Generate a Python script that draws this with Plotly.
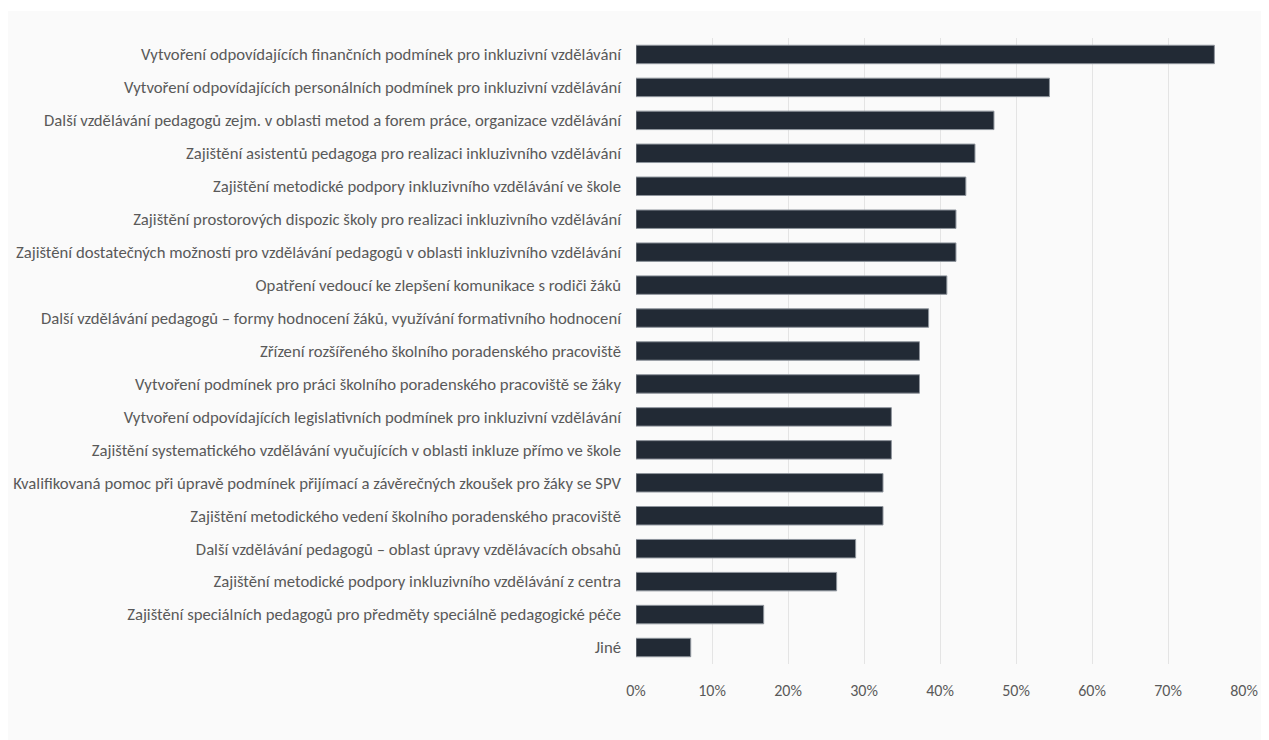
import plotly.graph_objects as go

categories = [
    "Vytvoření odpovídajících finančních podmínek pro inkluzivní vzdělávání",
    "Vytvoření odpovídajících personálních podmínek pro inkluzivní vzdělávání",
    "Další vzdělávání pedagogů zejm. v oblasti metod a forem práce, organizace vzdělávání",
    "Zajištění asistentů pedagoga pro realizaci inkluzivního vzdělávání",
    "Zajištění metodické podpory inkluzivního vzdělávání ve škole",
    "Zajištění prostorových dispozic školy pro realizaci inkluzivního vzdělávání",
    "Zajištění dostatečných možností pro vzdělávání pedagogů v oblasti inkluzivního vzdělávání",
    "Opatření vedoucí ke zlepšení komunikace s rodiči žáků",
    "Další vzdělávání pedagogů – formy hodnocení žáků, využívání formativního hodnocení",
    "Zřízení rozšířeného školního poradenského pracoviště",
    "Vytvoření podmínek pro práci školního poradenského pracoviště se žáky",
    "Vytvoření odpovídajících legislativních podmínek pro inkluzivní vzdělávání",
    "Zajištění systematického vzdělávání vyučujících v oblasti inkluze přímo ve škole",
    "Kvalifikovaná pomoc při úpravě podmínek přijímací a závěrečných zkoušek pro žáky se SPV",
    "Zajištění metodického vedení školního poradenského pracoviště",
    "Další vzdělávání pedagogů – oblast úpravy vzdělávacích obsahů",
    "Zajištění metodické podpory inkluzivního vzdělávání z centra",
    "Zajištění speciálních pedagogů pro předměty speciálně pedagogické péče",
    "Jiné",
]
values = [0.761, 0.544, 0.471, 0.446, 0.434, 0.421, 0.421, 0.409, 0.385, 0.373,
          0.373, 0.336, 0.336, 0.325, 0.325, 0.289, 0.264, 0.168, 0.072]
tick_vals = [0, 0.1, 0.2, 0.3, 0.4, 0.5, 0.6, 0.7, 0.8]
tick_text = ["0%", "10%", "20%", "30%", "40%", "50%", "60%", "70%", "80%"]

FONT = "Carlito, Calibri, Lato, sans-serif"
TXT = "#595959"

fig = go.Figure(go.Bar(
    x=values, y=categories, orientation="h",
    marker=dict(color="#222a35", line=dict(color="#8e949c", width=1)),
    hoverinfo="x+y",
))

# page body has an 8px margin; figure coordinates are offset by 8px
W, H = 1261, 732
L, R, T, B = 628, 25, 30, 76
pw, ph = W - L - R, H - T - B


def px_x(p):
    return (p - L) / pw


def px_y(p):
    return (H - B - p) / ph


fig.add_shape(type="rect", xref="paper", yref="paper",
              x0=px_x(0), x1=px_x(W + 20), y0=px_y(H + 20), y1=px_y(3),
              fillcolor="#fafafa", line=dict(width=0), layer="below")

fig.update_layout(
    width=W, height=H, autosize=False,
    margin=dict(l=L, r=R, t=T, b=B, pad=0, autoexpand=False),
    paper_bgcolor="white", plot_bgcolor="#fafafa",
    font=dict(family=FONT, size=16, color=TXT),
    bargap=0.44,
    showlegend=False,
    xaxis=dict(range=[0, 0.8], tickvals=tick_vals, ticktext=tick_text,
               showgrid=True, gridcolor="#e4e4e4", gridwidth=1,
               zeroline=False, showline=False, ticks="", automargin=False,
               ticklabelstandoff=15, tickfont=dict(size=16, color=TXT)),
    yaxis=dict(autorange="reversed", showgrid=False, zeroline=False,
               showline=False, ticks="", ticklabelstandoff=14, automargin=False,
               tickfont=dict(size=16.7, color=TXT)),
)

fig.write_html("out.html")
